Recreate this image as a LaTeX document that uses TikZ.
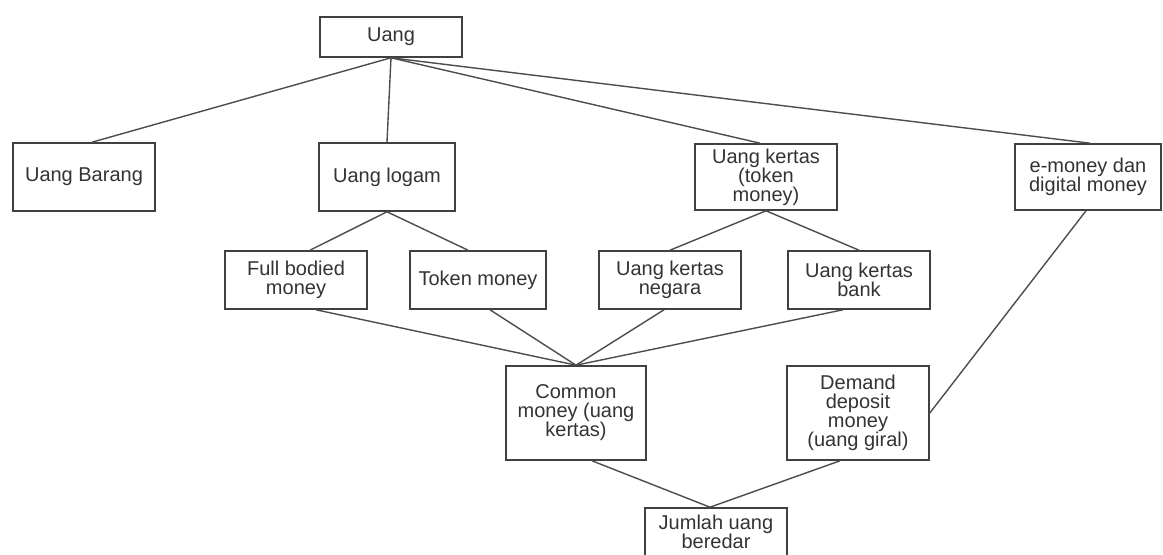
\documentclass[tikz,border=0pt]{standalone}
\usepackage{fontspec}
\setmainfont{Liberation Sans}
\usepackage{tikz}
\usetikzlibrary{positioning}

\begin{document}
\begin{tikzpicture}[
    x=0.5pt, y=-0.5pt,
    box/.style={rectangle, draw=black!75, line width=0.8pt, minimum width=71pt, minimum height=34pt, align=center, inner sep=1pt, font=\fontsize{10}{9.5}\selectfont, text=black!80},
    link/.style={draw=black!70, line width=0.7pt}
]
\useasboundingbox (0,0) rectangle (1163,555);

\node (uang) [box, minimum height=20pt] at (391,37) {Uang};

\node (barang) [box] at (84,177) {Uang Barang};
\node (logam) [box, minimum width=68pt] at (387,177) {Uang logam};
\node (kertas) [box, minimum height=33pt] at (766,177) {Uang kertas\\(token\\money)};
\node (emoney) [box, minimum width=73pt, minimum height=33pt] at (1088,177) {e-money dan\\digital money};

\node (full) [box, minimum height=29pt] at (296,280) {Full bodied\\money};
\node (token) [box, minimum width=68pt, minimum height=29pt] at (478,280) {Token money};
\node (negara) [box, minimum height=29pt] at (670,280) {Uang kertas\\negara};
\node (bank) [box, minimum height=29pt] at (859,280) {Uang kertas\\bank};

\node (common) [box, minimum width=70pt, minimum height=47pt] at (576,413) {Common\\money (uang\\kertas)};
\node (demand) [box, minimum height=47pt] at (858,413) {Demand\\deposit\\money\\(uang giral)};

\node (jumlah) [box, minimum height=24pt] at (716,532) {Jumlah uang\\beredar};

% level 1
\draw [link] (uang.south) -- ([xshift=4pt]barang.north);
\draw [link] (uang.south) -- (logam.north);
\draw [link] (uang.south) -- ([xshift=-3pt]kertas.north);
\draw [link] (uang.south) -- ([xshift=1pt]emoney.north);

% level 2
\draw [link] (logam.south) -- ([xshift=7pt]full.north);
\draw [link] (logam.south) -- ([xshift=-5pt]token.north);
\draw [link] (kertas.south) -- (negara.north);
\draw [link] (kertas.south) -- (bank.north);

% to common / demand
\draw [link] ([xshift=10pt]full.south) -- (common.north);
\draw [link] ([xshift=6pt]token.south) -- (common.north);
\draw [link] ([xshift=-3pt]negara.south) -- (common.north);
\draw [link] ([xshift=-8pt]bank.south) -- (common.north);
\draw [link] ([xshift=-1pt]emoney.south) -- (demand.east);

% total
\draw [link] ([xshift=8pt]common.south) -- ([xshift=-3pt]jumlah.north);
\draw [link] ([xshift=-9pt]demand.south) -- ([xshift=-3pt]jumlah.north);

\end{tikzpicture}
\end{document}
